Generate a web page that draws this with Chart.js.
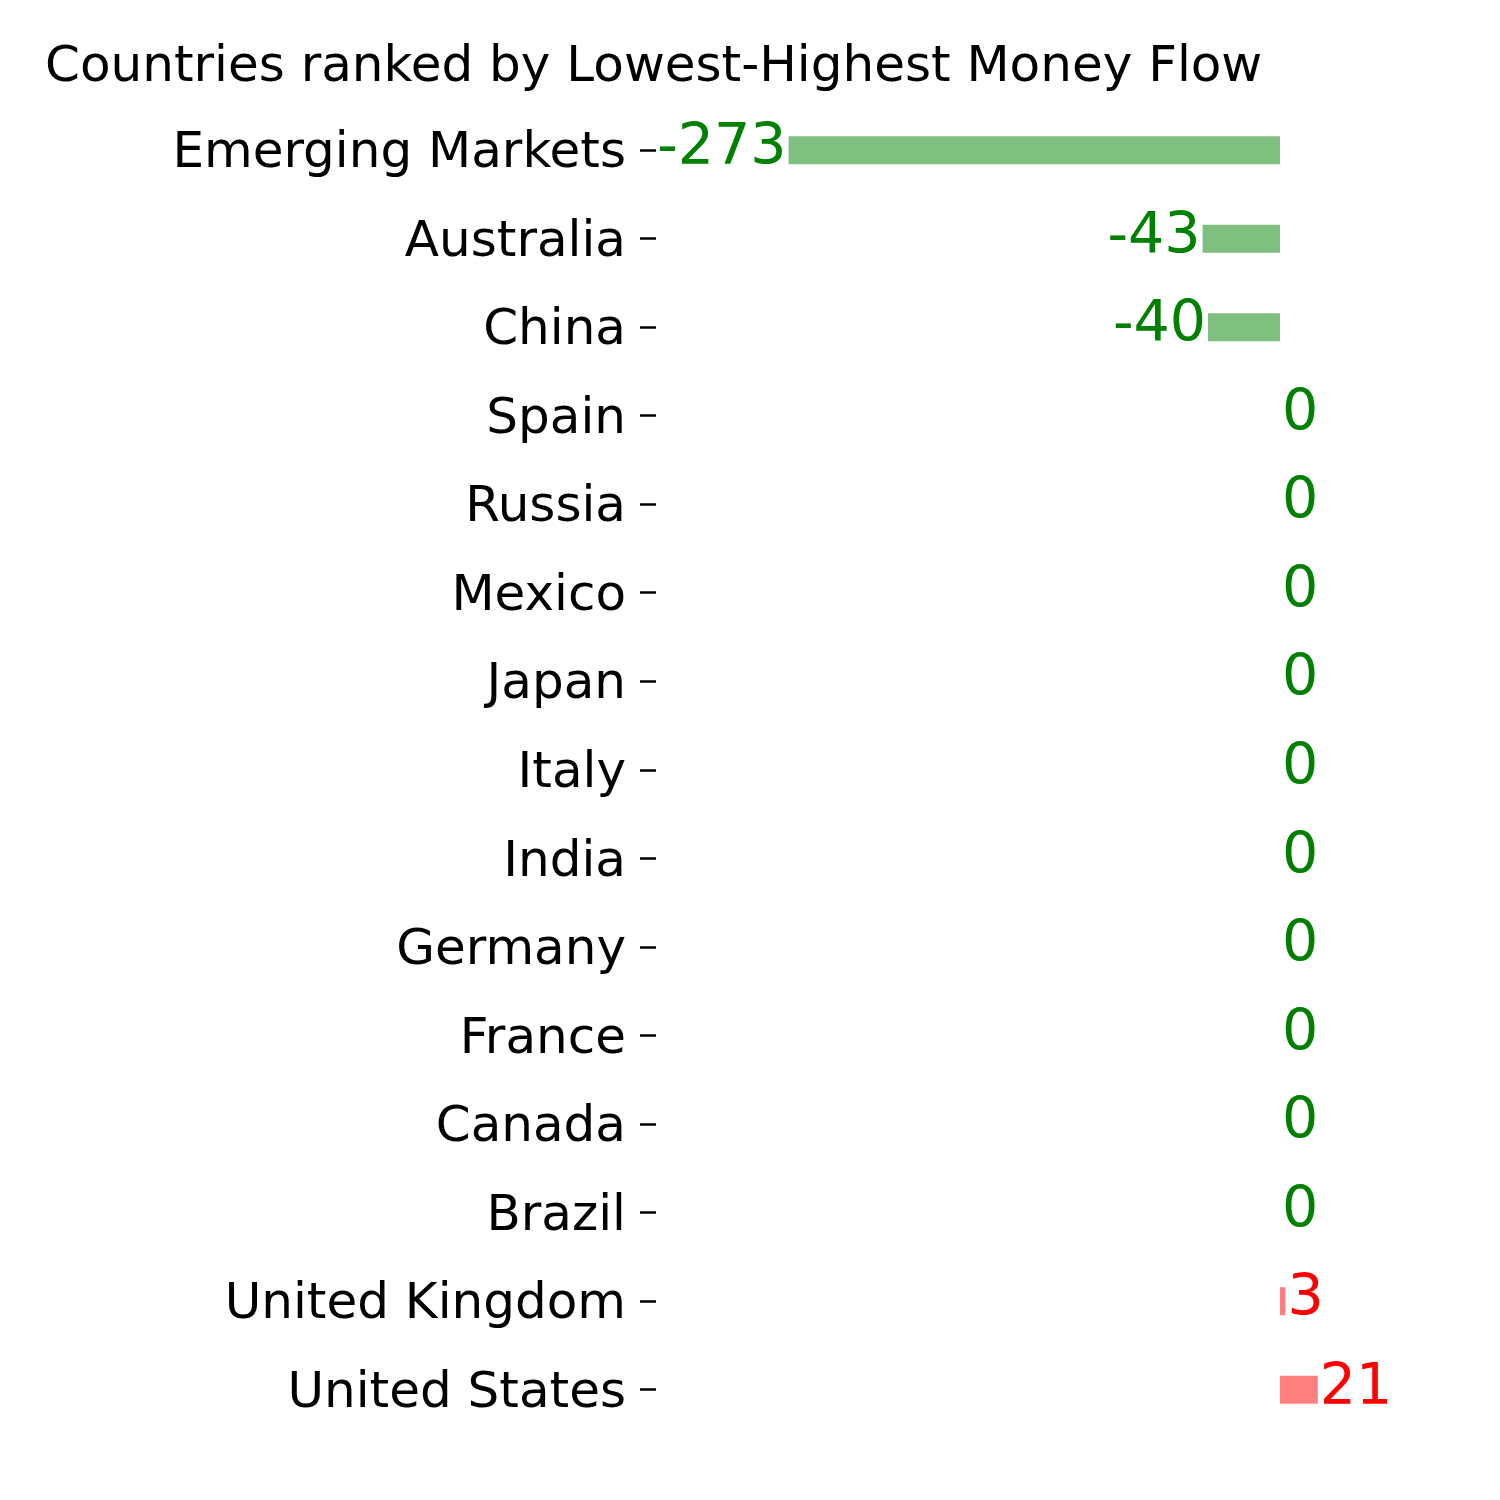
<!DOCTYPE html>
<html>
<head>
<meta charset="utf-8">
<script src="https://cdn.jsdelivr.net/npm/chart.js@4.4.0/dist/chart.umd.min.js"></script>
<style>
  body { margin: 0; background: #fff; }
</style>
</head>
<body>
<canvas id="flowChart" width="1500" height="1500"></canvas>
<script>
const paises = ["Emerging Markets", "Australia", "China", "Spain", "Russia", "Mexico", "Japan",
  "Italy", "India", "Germany", "France", "Canada", "Brazil", "United Kingdom", "United States"];
const flujos = [-273, -43, -40, 0, 0, 0, 0, 0, 0, 0, 0, 0, 0, 3, 21];
const titulo = "Countries ranked by Lowest-Highest Money Flow";

const fuente = "'DejaVu Sans', sans-serif";

// etiquetas de valor al final de cada barra
const etiquetasValor = {
  id: "etiquetasValor",
  afterDatasetsDraw(chart) {
    const ctx = chart.ctx;
    const xs = chart.scales.x;
    const ys = chart.scales.y;
    ctx.save();
    ctx.font = "57px " + fuente;
    ctx.textBaseline = "alphabetic";
    flujos.forEach((v, i) => {
      const x = xs.getPixelForValue(v);
      const y = ys.getPixelForValue(i);
      ctx.fillStyle = v > 0 ? "red" : "green";
      ctx.textAlign = v < 0 ? "right" : "left";
      ctx.fillText(String(v), v < 0 ? x - 2 : x + 2, y + 14);
    });
    ctx.restore();
  }
};

new Chart(document.getElementById("flowChart").getContext("2d"), {
  type: "bar",
  data: {
    labels: paises,
    datasets: [{
      data: flujos,
      backgroundColor: flujos.map(v => v > 0 ? "rgba(255, 0, 0, 0.5)" : "rgba(0, 128, 0, 0.5)"),
      borderWidth: 0,
      categoryPercentage: 1,
      barPercentage: 0.316
    }]
  },
  options: {
    indexAxis: "y",
    responsive: false,
    animation: false,
    layout: { padding: { left: 45, right: 40, top: 0, bottom: 66 } },
    plugins: {
      legend: { display: false },
      tooltip: { enabled: false },
      title: {
        display: true,
        text: titulo,
        align: "start",
        color: "#000",
        font: { family: fuente, size: 50, weight: "normal" },
        padding: { top: 38, bottom: 8 }
      }
    },
    scales: {
      x: {
        display: false,
        min: -346.67,
        max: 100
      },
      y: {
        afterFit: (scale) => { scale.width = 611; },
        border: { display: false },
        grid: {
          offset: false,
          drawOnChartArea: false,
          drawTicks: true,
          tickLength: 16,
          tickWidth: 2.5,
          tickColor: "#000"
        },
        ticks: {
          color: "#000",
          padding: 14,
          labelOffset: 4,
          font: { family: fuente, size: 50 }
        }
      }
    }
  },
  plugins: [etiquetasValor]
});
</script>
</body>
</html>
